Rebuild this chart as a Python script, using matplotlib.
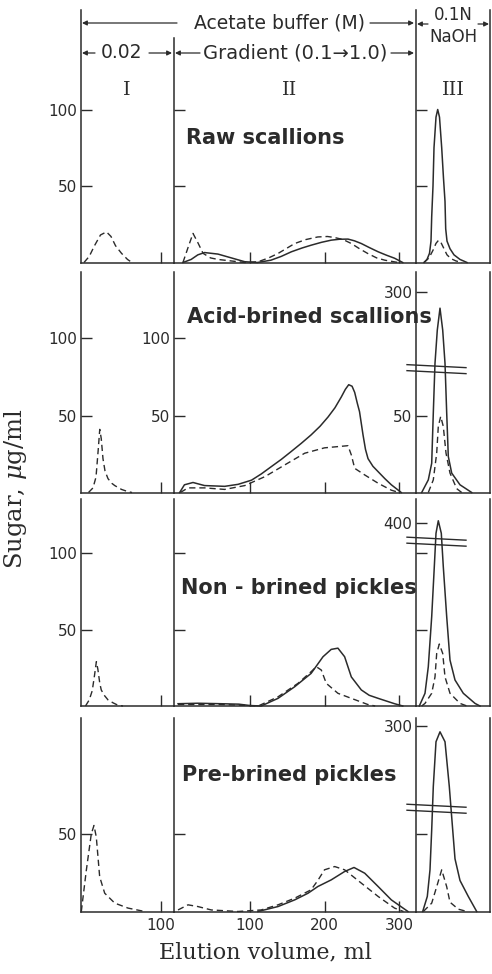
import numpy as np
import matplotlib
matplotlib.use("Agg")
import matplotlib.pyplot as plt

W, H = 492, 974
INK = "#2b2b2b"

# ---- data (elution volume ml, sugar ug/ml); I = 0.02 M, II = gradient, III = NaOH ----
# Raw scallions
raw_I_dash = ([-2, 5, 12, 20, 28, 34, 40, 48, 56, 62],
              [0, 4, 11, 18, 20, 17, 11, 6, 2, 0])
raw_II_solid = ([10, 21, 30, 39, 57, 75, 93, 110, 128, 142, 155.5, 170, 182, 196, 209, 220,
                 231.5, 240, 249.4, 260, 272, 283, 294, 305],
                [0, 2, 5, 6.5, 5.5, 3, 0.5, 0, 1.5, 4, 7, 9.5, 11.3, 13.2, 14.6, 15.2,
                 15.3, 14.2, 12.4, 9.8, 7, 4.8, 2.8, 0])
raw_II_dash = ([10, 17, 23.5, 30, 37, 47, 57, 75, 93, 111, 125, 137.6, 150, 160, 175, 191,
                204, 213.7, 225, 236, 247, 258, 270, 281, 299],
               [0, 10, 19, 13, 6, 3, 2, 1, 0, 0.5, 3, 5.9, 9.5, 12.4, 15, 16.7,
                17, 16.3, 15, 12.4, 9, 5.9, 3, 1.5, 0])
raw_III_solid = ([7, 10, 12.5, 14, 14.7, 16, 17, 19, 20.7, 22.5, 24.7, 26.5, 28, 28.7, 30,
                  33, 37, 43, 50],
                 [0, 2, 6, 14, 30, 50, 75, 95, 100, 95, 75, 55, 40, 22, 14, 9, 5, 2, 0])
raw_III_dash = ([7, 12, 16, 19, 21.5, 24, 27, 30, 34, 39, 45],
                [0, 3, 8, 12.5, 14.5, 13, 9, 5, 2.5, 1, 0])

# Acid-brined scallions
acid_I_dash = ([4, 10, 14, 17, 19, 21, 23.3, 26, 30, 35, 39, 48, 57, 62],
               [0, 3, 10, 28, 41, 35, 22, 14, 9, 6, 4.5, 2, 0.5, 0])
acid_II_solid = ([5.6, 12, 23.5, 39, 66, 84, 102, 115, 128.6, 142, 155, 169, 182, 194, 204.7,
                  214, 222.5, 228, 232.5, 237, 240.5, 244, 247, 251.7, 255, 258.4, 265, 272,
                  281, 289.7, 303],
                 [0, 5, 6.5, 4.5, 4, 5.3, 8, 12, 16.8, 21.5, 26.5, 32, 37.4, 43, 49,
                  55, 62, 67, 70, 69, 65, 58, 52.5, 37.4, 28, 22, 17, 13.5,
                  9, 5, 0])
acid_II_dash = ([6.5, 16.8, 39, 66, 93, 120, 146.6, 173.4, 200, 222.5, 231.5, 236, 240.5, 254,
                 272, 289.7, 300],
                [0, 3, 3, 2, 4.5, 10.3, 17.9, 25.5, 29, 30, 30.4, 24.4, 15.7, 11.4,
                 6, 1.5, 0])
acid_III_solid = ([4.7, 11.3, 14.7, 16.3, 18, 20.3, 23, 25.7, 28, 29.7, 31.3, 34.7, 43, 54.7],
                  [0, 8.2, 19, 51.6, 97, 191, 253, 191, 97, 51.6, 23.4, 12.6, 5, 0])
acid_III_dash = ([11.3, 16.3, 19.7, 21.3, 23.7, 26.3, 29, 33, 39.7, 44.7],
                 [0, 8.2, 25.6, 42.9, 49.4, 42.9, 25.6, 12.6, 2.5, 0])

# Non-brined pickles
non_I_dash = ([0, 5, 9, 12, 14.5, 16.5, 19, 21, 25, 30, 37, 43.3, 50],
              [0, 4, 10, 20, 29, 24, 15, 10.5, 7, 4, 2, 0.5, 0])
non_II_solid = ([3.4, 30, 60, 85, 100, 115, 137.6, 160, 182, 198, 209, 218, 227, 236, 249.4,
                 260, 272, 294, 305],
                [1.5, 1.8, 1.5, 1.2, 0.3, 0, 5, 12.6, 21.3, 32.2, 37, 37.8, 32.2, 19, 10.5,
                 7, 5, 1.5, 0])
non_II_dash = ([3.4, 30, 60, 90, 111, 137.6, 164.4, 182, 189, 195.7, 202.4, 218, 236, 258, 268],
               [1, 1, 1, 0.5, 0, 6, 14.8, 22.4, 25.7, 23.5, 14.8, 8.3, 5, 1, 0])
non_III_solid = ([2.3, 8, 11.3, 14.7, 17.3, 19, 21.3, 24.3, 26.3, 29.7, 33, 38, 46.3, 58, 63],
                 [0, 8.3, 25.7, 58.4, 91, 237, 430, 237, 91, 58.4, 30, 17, 8.3, 1.7, 0])
non_III_dash = ([4.7, 8, 14.7, 18, 19.7, 22.3, 25.7, 28, 33, 43, 50],
                [0, 1.7, 8.3, 19, 34.4, 40.5, 34.4, 19, 8.3, 1.7, 0])

# Pre-brined pickles
pre_I_dash = ([-5.6, 1.1, 7.7, 11.3, 14.4, 18.9, 25.6, 39, 56.7, 79],
              [0, 26.6, 50, 55.5, 48, 22.4, 11.8, 5.4, 2.2, 0])
pre_II_solid = ([110.7, 137.6, 160, 177.9, 191, 209, 227, 239.6, 254, 272, 289.7, 312],
                [0, 3.2, 7.5, 11.8, 16.1, 20.4, 25.8, 28.4, 24.7, 16.1, 7.5, 0])
pre_II_dash = ([3.4, 16.8, 30, 48, 84, 115, 137.6, 160, 182, 191, 200, 213.7, 227, 249.4, 272,
                294, 306],
               [1, 4.3, 3.2, 1, 0, 1, 4.3, 8.6, 14, 20, 26.9, 29, 26.9, 18.3, 9.7,
                2.2, 0])
pre_III_solid = ([5.7, 10.3, 13, 14.7, 16.3, 19, 23, 28, 32.3, 35.7, 38, 43, 51.3, 59.7],
                 [0, 9.7, 26.9, 52.7, 128.8, 255, 283, 255, 128.8, 52.7, 34, 20, 9.7, 0])
pre_III_dash = ([6.3, 14.7, 19.7, 24.7, 29.7, 33, 41.3, 50],
                [0, 5.4, 16, 26.9, 16, 6, 1.5, 0])

PANEL_NAMES = ["Raw scallions", "Acid-brined scallions", "Non - brined pickles",
               "Pre-brined pickles"]
CURVES = [
    [[(raw_I_dash, "--")], [(raw_II_solid, "-"), (raw_II_dash, "--")],
     [(raw_III_solid, "-"), (raw_III_dash, "--")]],
    [[(acid_I_dash, "--")], [(acid_II_solid, "-"), (acid_II_dash, "--")],
     [(acid_III_solid, "-"), (acid_III_dash, "--")]],
    [[(non_I_dash, "--")], [(non_II_solid, "-"), (non_II_dash, "--")],
     [(non_III_solid, "-"), (non_III_dash, "--")]],
    [[(pre_I_dash, "--")], [(pre_II_solid, "-"), (pre_II_dash, "--")],
     [(pre_III_solid, "-"), (pre_III_dash, "--")]],
]
# y axis break in section III: (break value, compression above it)
BREAKS = [None, (80.1, 0.229), (107.4, 0.0424), (66.3, 0.229)]
YTICKS = [
    [([50, 100], ["50", "100"]), ([50, 100], ["", ""]), ([50, 100], ["", ""])],
    [([50, 100], ["50", "100"]), ([50, 100], ["50", "100"]), ([50, 300], ["50", "300"])],
    [([50, 100], ["50", "100"]), ([50, 100], ["", ""]), ([50, 100, 400], ["", "", "400"])],
    [([50], ["50"]), ([50], [""]), ([50, 300], ["", "300"])],
]
XTICKS = [[100], [100, 200, 300], []]

# ---- layout in pixels ----
COL_EDGES = [81, 174, 416, 490]
ROWS = [(10, 262.5, 1.53), (272, 492.5, 1.54), (499, 706, 1.53), (718, 911.5, 1.55)]
XLIMS = [(-6, 118), (-2, 322.8), (-1, 73)]
NAME_POS = [(186, 138), (187, 317), (181, 588), (182, 775)]


def px_box(x0, x1, top, base):
    return [x0 / W, 1 - base / H, (x1 - x0) / W, (base - top) / H]


def broken(b, k):
    def fwd(y):
        y = np.asarray(y, dtype=float)
        return np.where(y <= b, y, b + (y - b) * k)

    def inv(y):
        y = np.asarray(y, dtype=float)
        return np.where(y <= b, y, b + (y - b) / k)
    return fwd, inv


plt.rcParams["mathtext.fontset"] = "dejavuserif"
fig = plt.figure(figsize=(W / 100, H / 100), dpi=100)

for p, (top, base, scale) in enumerate(ROWS):
    lin_top = (base - top) / scale
    for c in range(3):
        ax = fig.add_axes(px_box(COL_EDGES[c], COL_EDGES[c + 1], top, base))
        ax.set_facecolor("none")
        ax.set_xlim(*XLIMS[c])
        if c == 2 and BREAKS[p] is not None:
            fwd, inv = broken(*BREAKS[p])
            ax.set_yscale("function", functions=(fwd, inv))
            ax.set_ylim(0, float(inv(lin_top)))
        else:
            ax.set_ylim(0, lin_top)

        for (xs, ys), ls in CURVES[p][c]:
            if ls == "--":
                ax.plot(xs, ys, color=INK, lw=1.0, dashes=(4.5, 2.8), clip_on=False)
            else:
                ax.plot(xs, ys, color=INK, lw=1.1, clip_on=False)

        for side in ["top", "right"]:
            ax.spines[side].set_visible(False)
        if c == 2:
            ax.spines["right"].set_visible(True)
        for s in ax.spines.values():
            s.set_linewidth(1.1)
            s.set_color(INK)
        if p == 0 and c == 1:
            ax.spines["left"].set_bounds(0, (base - 38) / scale)

        yt, yl = YTICKS[p][c]
        ax.set_yticks(yt, yl)
        ax.minorticks_off()
        if XTICKS[c]:
            labels = [str(v) for v in XTICKS[c]] if p == 3 else [""] * len(XTICKS[c])
            ax.set_xticks(XTICKS[c], labels)
        else:
            ax.set_xticks([])
        ax.tick_params(direction="in", length=8, width=1.0, color=INK, labelcolor=INK,
                       labelsize=11)
        ax.tick_params(axis="y", pad=2.5)
        ax.tick_params(axis="x", pad=5)

# ---- overlay in pixel coordinates for annotations ----
ov = fig.add_axes([0, 0, 1, 1])
ov.set_xlim(0, W)
ov.set_ylim(H, 0)
ov.axis("off")

sans = dict(family="DejaVu Sans", color=INK)
serif = dict(family="DejaVu Serif", color=INK)
arrow = dict(arrowstyle="-|>", color=INK, lw=0.9, mutation_scale=7, shrinkA=0, shrinkB=0)

x0, x1, x2, x3 = COL_EDGES
ov.text(279, 23, "Acetate buffer (M)", ha="center", va="center", fontsize=13.5, **sans)
ov.annotate("", xy=(x0 + 1, 23), xytext=(177, 23), arrowprops=arrow)
ov.annotate("", xy=(x2 - 2, 23), xytext=(370, 23), arrowprops=arrow)
ov.text(453, 15, "0.1N", ha="center", va="center", fontsize=12, **sans)
ov.text(453, 37, "NaOH", ha="center", va="center", fontsize=12, **sans)
ov.annotate("", xy=(x2 + 1, 24), xytext=(428, 24), arrowprops=arrow)
ov.annotate("", xy=(x3 - 1, 24), xytext=(478, 24), arrowprops=arrow)
ov.text(122, 53, "0.02", ha="center", va="center", fontsize=13.5, **sans)
ov.annotate("", xy=(x0 + 1, 53), xytext=(95, 53), arrowprops=arrow)
ov.annotate("", xy=(x1 - 2, 53), xytext=(149, 53), arrowprops=arrow)
ov.text(295, 53, "Gradient (0.1\u21921.0)", ha="center", va="center", fontsize=14, **sans)
ov.annotate("", xy=(x1 + 1, 53), xytext=(200, 53), arrowprops=arrow)
ov.annotate("", xy=(x2 - 2, 53), xytext=(391, 53), arrowprops=arrow)
for label, xc in [("I", 127), ("II", 290), ("III", 453)]:
    ov.text(xc, 90, label, ha="center", va="center", fontsize=14, **serif)

for name, (xn, yn) in zip(PANEL_NAMES, NAME_POS):
    ov.text(xn, yn, name, ha="left", va="center", fontsize=15, fontweight="bold", **sans)

# break marks on section III axes
for p, (top, base, scale) in enumerate(ROWS):
    if BREAKS[p] is None:
        continue
    yb = base - BREAKS[p][0] * scale
    for off in (-3, 3):
        ov.plot([x2 - 9, x2 + 50], [yb + off - 1.5, yb + off + 1.5], color=INK, lw=1.0)

ov.text(265, 952, "Elution volume, ml", ha="center", va="center", fontsize=16, **serif)
ov.text(16, 489, "Sugar, $\\mu$g/ml", ha="center", va="center", rotation=90,
        fontsize=17.5, **serif)

fig.savefig("out.png", dpi=100)
